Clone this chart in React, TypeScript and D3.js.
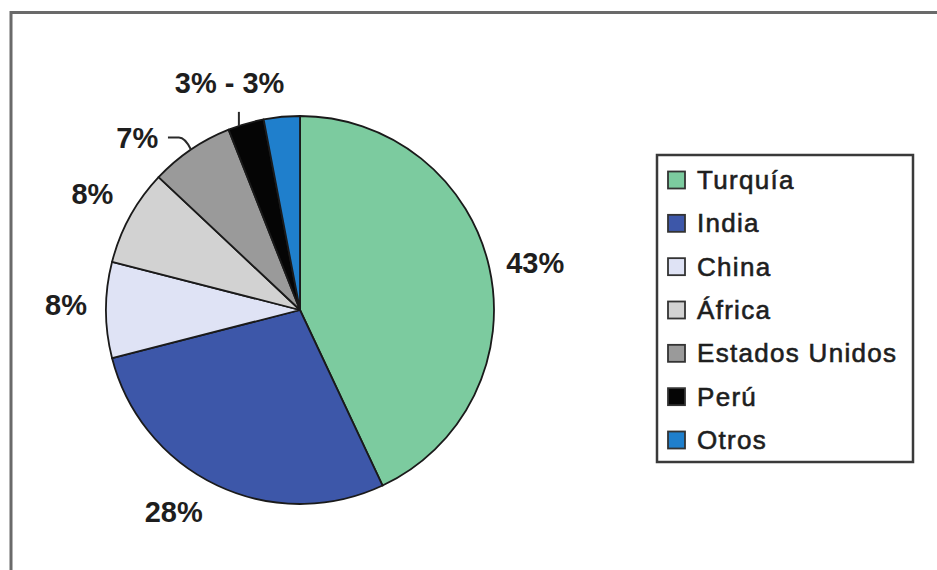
import React from "react";
import * as d3 from "d3";

const categories = ["Turquía", "India", "China", "África", "Estados Unidos", "Perú", "Otros"];
const legendLabels = ["Turquía", "India", "China", "África", "Estados Unidos", "Perú", "Otros"];
const values = [43, 28, 8, 8, 7, 3, 3];
const labels = ["43%", "28%", "8%", "8%", "7%", "3% - 3%", ""];
const colors = ["#7ccb9f", "#3d57a9", "#dfe3f5", "#d2d2d2", "#9a9a9a", "#050505", "#1f7fcc"];
const labelOffsets: [number, number][] = [[3, 5], [-25, -13], [4, -5], [1, -1], [-29, 25], [-4, 2], [0, 0]];

const W = 937;
const H = 570;
const cx = 300;
const cy = 310;
const R = 194;
const LR = 238;

export default function App() {
  const pie = d3.pie<number>().sort(null).value((d) => d);
  const arcs = pie(values);
  const arc = d3.arc<d3.PieArcDatum<number>>().innerRadius(0).outerRadius(R);
  const labelArc = d3.arc<d3.PieArcDatum<number>>().innerRadius(LR).outerRadius(LR);
  const pt = (a: number, r: number): [number, number] => [cx + r * Math.sin(a), cy - r * Math.cos(a)];

  const usa = arcs[4];
  const usaMid = (usa.startAngle + usa.endAngle) / 2;
  const [ex, ey] = pt(usaMid, R);
  const peru = arcs[5];
  const peruA = peru.startAngle + 0.3 * (peru.endAngle - peru.startAngle);
  const [px, py] = pt(peruA, R);

  const legendX = 657;
  const legendY = 155;
  const legendW = 256;
  const legendH = 307;
  const rowY = d3.scaleLinear().domain([0, categories.length - 1]).range([180, 440]);

  const font = "'Liberation Sans', Arial, Helvetica, sans-serif";

  return (
    <svg width={W} height={H} style={{ position: "absolute", left: 0, top: 0, background: "#fff" }}>
      <rect x={11} y={12.5} width={W + 20} height={H + 20} fill="#fff" stroke="#6a6a6a" strokeWidth={3} />
      <g transform={`translate(${cx},${cy})`}>
        {arcs.map((a, i) => (
          <path key={i} d={arc(a) || ""} fill={colors[i]} stroke="#1a1a1a" strokeWidth={1.8} strokeLinejoin="round" />
        ))}
      </g>
      <path
        d={`M${ex},${ey} Q${ex - 6},${ey - 12} ${ex - 12},${ey - 12} L${ex - 23},${ey - 12}`}
        fill="none"
        stroke="#2a2a2a"
        strokeWidth={2}
      />
      <line x1={px} y1={py} x2={px} y2={py - 14} stroke="#2a2a2a" strokeWidth={2} />
      {arcs.map((a, i) => {
        if (!labels[i]) return null;
        const [lx, ly] = labelArc.centroid(a);
        return (
          <text
            key={i}
            x={cx + lx + labelOffsets[i][0]}
            y={cy + ly + labelOffsets[i][1]}
            textAnchor="middle"
            dominantBaseline="central"
            fontFamily={font}
            fontWeight="bold"
            fontSize={29}
            fill="#1e1e1e"
          >
            {labels[i]}
          </text>
        );
      })}
      <rect x={legendX} y={legendY} width={legendW} height={legendH} fill="#fff" stroke="#3a3a3a" strokeWidth={2.5} />
      {legendLabels.map((t, i) => (
        <g key={i}>
          <rect x={668} y={rowY(i) - 8.5} width={17} height={17} fill={colors[i]} stroke="#333" strokeWidth={1.8} />
          <text
            x={697}
            y={rowY(i)}
            dominantBaseline="central"
            fontFamily={font}
            fontSize={26}
            letterSpacing={1.3}
            fill="#1e1e1e"
            stroke="#1e1e1e"
            strokeWidth={0.6}
          >
            {t}
          </text>
        </g>
      ))}
    </svg>
  );
}
